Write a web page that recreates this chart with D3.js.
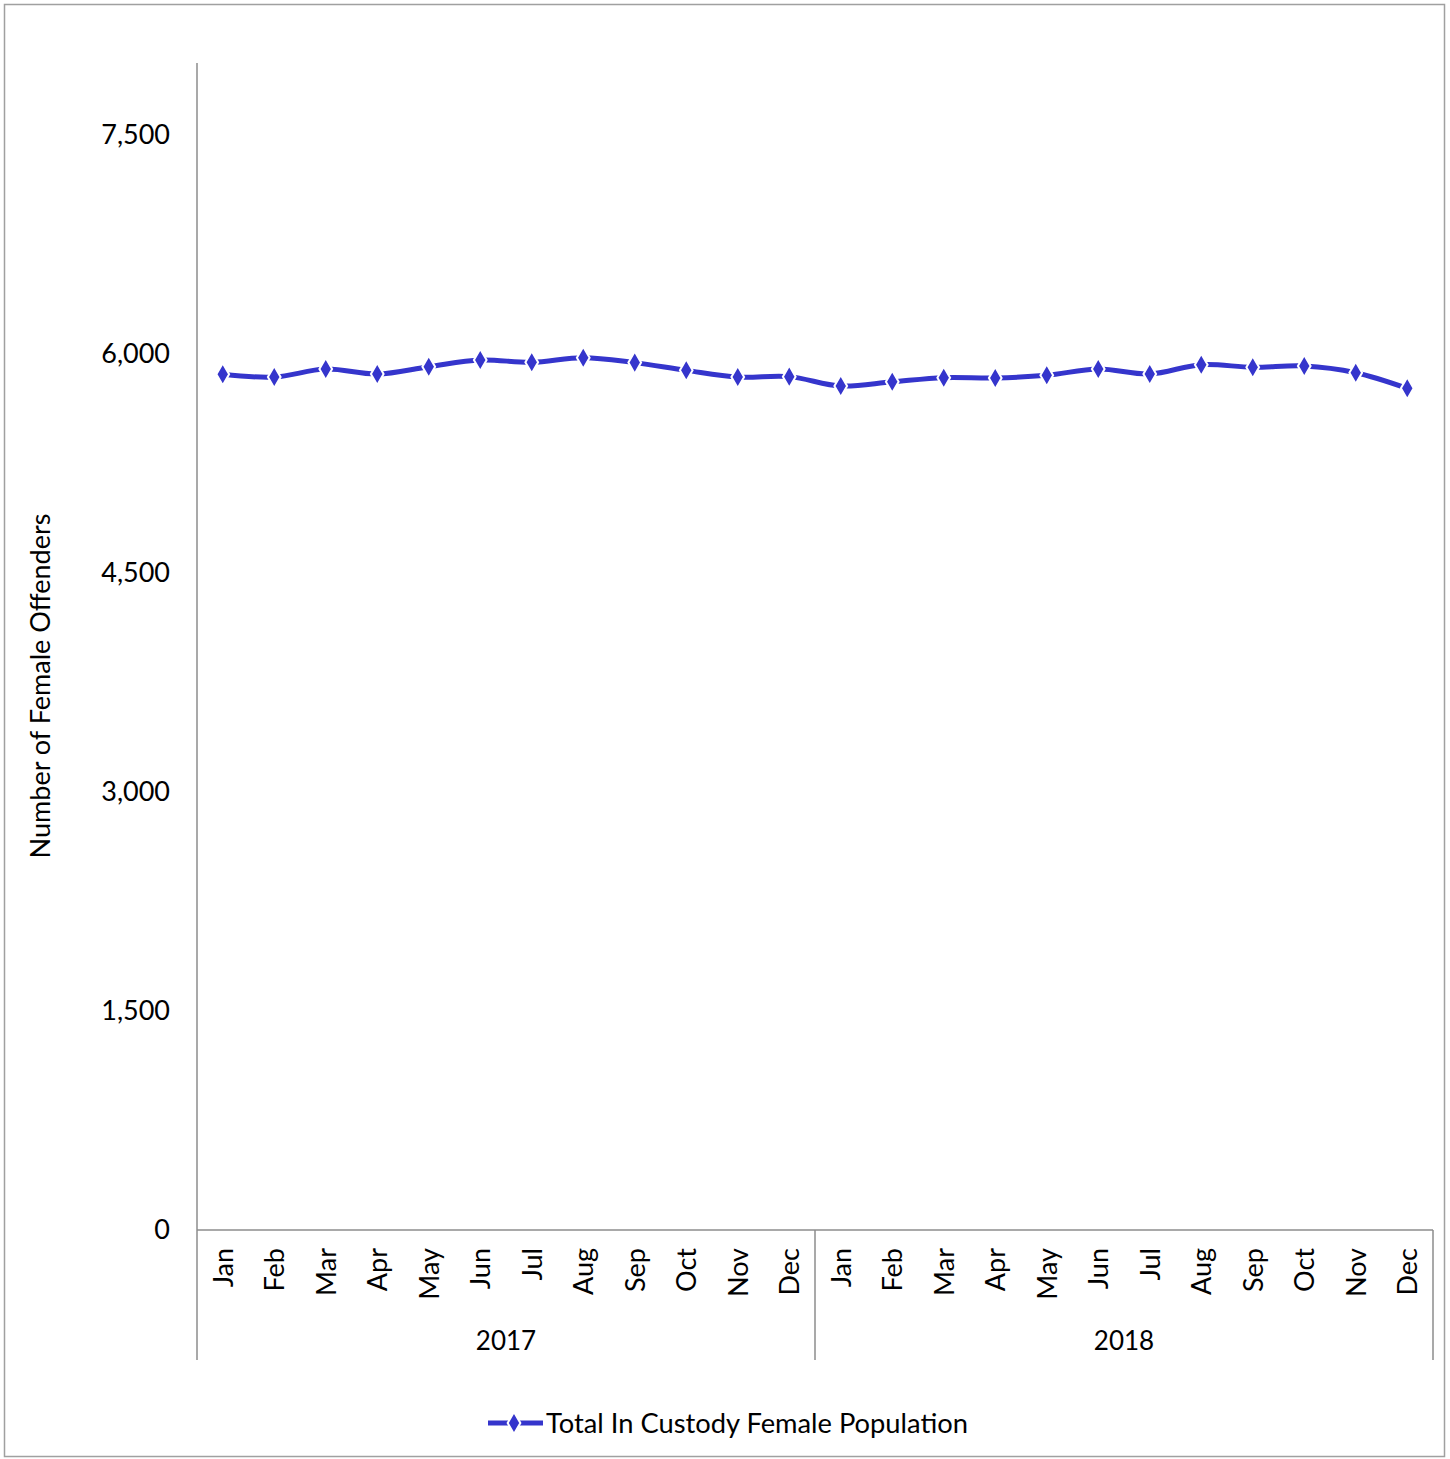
<!DOCTYPE html>
<html><head><meta charset="utf-8">
<script src="https://cdn.jsdelivr.net/npm/d3@7"></script>
<style>body{margin:0;background:#fff}text{font-family:Lato,"Open Sans",sans-serif;fill:#000}</style>
</head><body>
<svg id="c" width="1450" height="1459"></svg>
<script>
const months = ["Jan","Feb","Mar","Apr","May","Jun","Jul","Aug","Sep","Oct","Nov","Dec"];
const years = ["2017","2018"];
const values2017 = [5861,5842,5897,5863,5913,5959,5943,5975,5941,5888,5842,5845];
const values2018 = [5781,5810,5838,5836,5854,5897,5863,5927,5909,5918,5872,5765];
const yTicks = [0,1500,3000,4500,6000,7500];
const seriesName = "Total In Custody Female Population";
const yTitle = "Number of Female Offenders";

(function(){
const data = [];
years.forEach((yr,i)=>{
  const vals = i===0?values2017:values2018;
  months.forEach((m,j)=>data.push({key:yr+"-"+m, month:m, year:yr, value:vals[j]}));
});

const svg = d3.select("#c");
const pl=197, pr=1433, pt=63, pb=1230;
const color="#3535cc", axisColor="#8c8c8c";

svg.append("rect").attr("x",4.5).attr("y",4.5).attr("width",1440).attr("height",1452)
  .attr("fill","#fff").attr("stroke","#a0a0a0").attr("stroke-width",1.5);

const x = d3.scaleBand().domain(data.map(d=>d.key)).range([pl,pr]);
const y = d3.scaleLinear().domain([0,8000]).range([pb, pb-8000*0.146]);

svg.append("line").attr("x1",pl).attr("x2",pl).attr("y1",pt).attr("y2",pb)
  .attr("stroke",axisColor).attr("stroke-width",1.5);
const yAxis = d3.axisLeft(y).tickValues(yTicks).tickSize(0).tickPadding(27).tickFormat(d3.format(","));
const gy = svg.append("g").attr("transform",`translate(${pl},0)`).call(yAxis);
gy.select(".domain").remove();
gy.selectAll("text").style("font-size","27px").style("font-family","Lato,sans-serif").attr("fill","#000");

svg.append("line").attr("x1",pl).attr("x2",pr).attr("y1",pb).attr("y2",pb)
  .attr("stroke",axisColor).attr("stroke-width",1.5);
const yearScale = d3.scaleBand().domain(years).range([pl,pr]);
[pl, ...years.map(yr=>yearScale(yr)+yearScale.bandwidth())].forEach(xx=>{
  svg.append("line").attr("x1",xx).attr("x2",xx).attr("y1",pb).attr("y2",1360)
    .attr("stroke",axisColor).attr("stroke-width",1.5);
});
svg.append("g").selectAll("text").data(data).join("text")
  .attr("transform",d=>`translate(${x(d.key)+x.bandwidth()/2+10},1248) rotate(-90)`)
  .attr("text-anchor","end").style("font-size","27px").text(d=>d.month);
svg.append("g").selectAll("text").data(years).join("text")
  .attr("x",d=>yearScale(d)+yearScale.bandwidth()/2).attr("y",1350)
  .attr("text-anchor","middle").style("font-size","26px").text(d=>d);

svg.append("text").attr("transform","translate(50,686) rotate(-90)")
  .attr("text-anchor","middle").style("font-size","27px").text(yTitle);

const line = d3.line().x(d=>x(d.key)+x.bandwidth()/2).y(d=>y(d.value)).curve(d3.curveCatmullRom.alpha(0.5));
svg.append("path").datum(data).attr("d",line).attr("fill","none")
  .attr("stroke",color).attr("stroke-width",5);
const diamond = d3.symbol().type(d3.symbolDiamond).size(140);
svg.append("g").selectAll("path").data(data).join("path")
  .attr("transform",d=>`translate(${x(d.key)+x.bandwidth()/2},${y(d.value)})`)
  .attr("d",diamond).attr("fill",color).attr("stroke","#fff").attr("stroke-width",2);

const lg = svg.append("g");
lg.append("line").attr("x1",488).attr("x2",543).attr("y1",1423).attr("y2",1423)
  .attr("stroke",color).attr("stroke-width",5);
lg.append("path").attr("transform","translate(514,1423)").attr("d",diamond)
  .attr("fill",color).attr("stroke","#fff").attr("stroke-width",2);
lg.append("text").attr("x",546).attr("y",1433).style("font-size","27.3px").text(seriesName);
})();
</script>
</body></html>
